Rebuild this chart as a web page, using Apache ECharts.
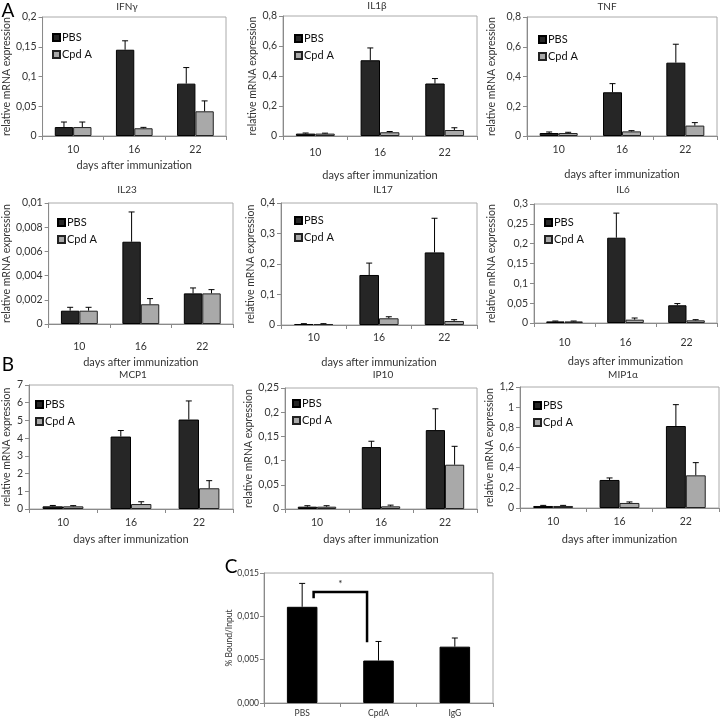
<!DOCTYPE html>
<html>
<head>
<meta charset="utf-8">
<script src="https://cdn.jsdelivr.net/npm/echarts@6/dist/echarts.min.js"></script>
<style>html,body{margin:0;padding:0;background:#fff}#c{width:720px;height:719px}</style>
</head>
<body>
<div id="c"></div>
<script>
// ---------- DATA ----------
const days = ['10', '16', '22'];
const seriesNames = ['PBS', 'Cpd A'];

const ifngPBS = [0.015, 0.145, 0.088];   const ifngPBSErr = [0.0085, 0.015, 0.027];
const ifngCpd = [0.015, 0.013, 0.0415];  const ifngCpdErr = [0.0085, 0.0015, 0.0175];
const il1bPBS = [0.016, 0.505, 0.35];    const il1bPBSErr = [0.004, 0.082, 0.033];
const il1bCpd = [0.016, 0.025, 0.04];    const il1bCpdErr = [0.003, 0.005, 0.015];
const tnfPBS = [0.02, 0.294, 0.493];     const tnfPBSErr = [0.007, 0.058, 0.124];
const tnfCpd = [0.02, 0.031, 0.07];      const tnfCpdErr = [0.005, 0.005, 0.02];
const il23PBS = [0.0011, 0.0068, 0.00253]; const il23PBSErr = [0.00028, 0.00246, 0.00045];
const il23Cpd = [0.0011, 0.00163, 0.00253]; const il23CpdErr = [0.00028, 0.00047, 0.00031];
const il17PBS = [0.0033, 0.164, 0.238];  const il17PBSErr = [0.0011, 0.039, 0.112];
const il17Cpd = [0.0033, 0.022, 0.013];  const il17CpdErr = [0.0011, 0.005, 0.0045];
const il6PBS = [0.004, 0.215, 0.0447];   const il6PBSErr = [0.001, 0.062, 0.0043];
const il6Cpd = [0.004, 0.0084, 0.0067];  const il6CpdErr = [0.001, 0.0042, 0.0017];
const mcp1PBS = [0.15, 4.09, 5.05];      const mcp1PBSErr = [0.05, 0.34, 1.05];
const mcp1Cpd = [0.15, 0.28, 1.17];      const mcp1CpdErr = [0.04, 0.13, 0.43];
const ip10PBS = [0.0048, 0.128, 0.163];  const ip10PBSErr = [0.002, 0.012, 0.044];
const ip10Cpd = [0.0048, 0.0055, 0.0915]; const ip10CpdErr = [0.002, 0.0025, 0.038];
const mip1aPBS = [0.02, 0.278, 0.813];   const mip1aPBSErr = [0.006, 0.02, 0.212];
const mip1aCpd = [0.02, 0.05, 0.324];    const mip1aCpdErr = [0.006, 0.01, 0.126];

const ifngTicks = ['0', '0,05', '0,1', '0,15', '0,2'];
const il1bTicks = ['0', '0,2', '0,4', '0,6', '0,8'];
const tnfTicks = ['0', '0,2', '0,4', '0,6', '0,8'];
const il23Ticks = ['0', '0,002', '0,004', '0,006', '0,008', '0,01'];
const il17Ticks = ['0', '0,1', '0,2', '0,3', '0,4'];
const il6Ticks = ['0', '0,05', '0,1', '0,15', '0,2', '0,25', '0,3'];
const mcp1Ticks = ['0', '1', '2', '3', '4', '5', '6', '7'];
const ip10Ticks = ['0', '0,05', '0,1', '0,15', '0,2', '0,25'];
const mip1aTicks = ['0', '0,2', '0,4', '0,6', '0,8', '1', '1,2'];

// Panel C
const chipCats = ['PBS', 'CpdA', 'IgG'];
const chipVals = [0.0111, 0.0049, 0.0065];
const chipErr = [0.0027, 0.0022, 0.001];
const chipTicks = ['0,000', '0,005', '0,010', '0,015'];
const sigFrom = 0, sigTo = 1;
const sigLeftEnd = 0.0121, sigTop = 0.0128, sigRightEnd = 0.0070, sigLabel = '*';

// ---------- PANELS (data + layout) ----------
const panels = [
  {title:'IFNγ', pbs:ifngPBS, pe:ifngPBSErr, cpd:ifngCpd, ce:ifngCpdErr, ticks:ifngTicks, iv:0.05,
   L:{x:42,y:17,w:184,h:119,tx:127,ty:7,lx:47,ly:27,lm:14,ng:30,yg:27}},
  {title:'IL1β', pbs:il1bPBS, pe:il1bPBSErr, cpd:il1bCpd, ce:il1bCpdErr, ticks:il1bTicks, iv:0.2,
   L:{x:283,y:16,w:194,h:120,tx:377,ty:6,lx:289,ly:28,lm:17,ng:40,yg:23}},
  {title:'TNF', pbs:tnfPBS, pe:tnfPBSErr, cpd:tnfCpd, ce:tnfCpdErr, ticks:tnfTicks, iv:0.2,
   L:{x:527,y:17,w:190,h:119,tx:607,ty:7,lx:533,ly:29,lm:14,ng:39,yg:30}},
  {title:'IL23', pbs:il23PBS, pe:il23PBSErr, cpd:il23Cpd, ce:il23CpdErr, ticks:il23Ticks, iv:0.002,
   L:{x:48,y:203,w:185,h:121,tx:127,ty:190,lx:52,ly:212,lm:23,ng:39,yg:35}},
  {title:'IL17', pbs:il17PBS, pe:il17PBSErr, cpd:il17Cpd, ce:il17CpdErr, ticks:il17Ticks, iv:0.1,
   L:{x:281,y:203,w:196,h:122,tx:383,ty:190,lx:289,ly:210,lm:13,ng:38,yg:20}},
  {title:'IL6', pbs:il6PBS, pe:il6PBSErr, cpd:il6Cpd, ce:il6CpdErr, ticks:il6Ticks, iv:0.05,
   L:{x:534,y:204,w:183,h:119,tx:623,ty:190,lx:539,ly:212,lm:20,ng:39,yg:37}},
  {title:'MCP1', pbs:mcp1PBS, pe:mcp1PBSErr, cpd:mcp1Cpd, ce:mcp1CpdErr, ticks:mcp1Ticks, iv:1,
   L:{x:27,y:385,w:206,h:124,tx:133,ty:375,lx:30,ly:394,lm:14,ng:31,yg:17}},
  {title:'IP10', pbs:ip10PBS, pe:ip10PBSErr, cpd:ip10Cpd, ce:ip10CpdErr, ticks:ip10Ticks, iv:0.05,
   L:{x:285,y:388,w:192,h:121,tx:383,ty:375,lx:287,ly:393,lm:14,ng:31,yg:26}},
  {title:'MIP1α', pbs:mip1aPBS, pe:mip1aPBSErr, cpd:mip1aCpd, ce:mip1aCpdErr, ticks:mip1aTicks, iv:0.2,
   L:{x:520,y:387,w:199,h:121,tx:623,ty:375,lx:528,ly:395,lm:14,ng:32,yg:23}}
];

const FONT = 'Lato, "Noto Sans", sans-serif';
const PBS_COLOR = '#262626', CPD_COLOR = '#a9a9a9';
const AXIS_COLOR = '#8a8a8a', TEXT_COLOR = '#333';

function errRender(offsetFrac) {
  return function (params, api) {
    const cat = api.value(0), v = api.value(1), e = api.value(2);
    const band = api.size([1, 0])[0];
    const base = api.coord([cat, v]);
    const top = api.coord([cat, v + e]);
    const x = base[0] + offsetFrac * band;
    const cw = 3;
    const st = {stroke: '#000', lineWidth: 1};
    return {type: 'group', children: [
      {type: 'line', shape: {x1: x, y1: base[1], x2: x, y2: top[1]}, style: st},
      {type: 'line', shape: {x1: x - cw, y1: top[1], x2: x + cw, y2: top[1]}, style: st}
    ]};
  };
}

const grids = [], xAxes = [], yAxes = [], series = [], legends = [], graphics = [];

panels.forEach((p, i) => {
  const L = p.L;
  grids.push({left: L.x, top: L.y, width: L.w, height: L.h, show: true, borderColor: '#aaa', borderWidth: 1});
  xAxes.push({
    type: 'category', gridIndex: i, data: days,
    axisLine: {lineStyle: {color: AXIS_COLOR}},
    axisTick: {show: true, alignWithLabel: false, length: 4, lineStyle: {color: AXIS_COLOR}},
    axisLabel: {color: TEXT_COLOR, fontSize: 10.5, fontFamily: FONT, margin: L.lm - 6},
    name: 'days after immunization', nameLocation: 'middle', nameGap: L.ng - 6,
    nameTextStyle: {color: TEXT_COLOR, fontSize: 11, fontFamily: FONT}
  });
  const maxV = p.iv * (p.ticks.length - 1);
  yAxes.push({
    type: 'value', gridIndex: i, min: 0, max: maxV, interval: p.iv,
    splitLine: {show: false},
    axisLine: {show: true, lineStyle: {color: AXIS_COLOR}},
    axisTick: {show: true, length: 4, lineStyle: {color: AXIS_COLOR}},
    axisLabel: {color: TEXT_COLOR, fontSize: 10.5, fontFamily: FONT, margin: 6,
      formatter: (v) => p.ticks[Math.round(v / p.iv)] ?? ''},
    name: 'relative mRNA expression', nameLocation: 'middle', nameGap: L.yg,
    nameTextStyle: {color: TEXT_COLOR, fontSize: 10.5, fontFamily: FONT}
  });
  series.push({
    type: 'bar', name: seriesNames[0], xAxisIndex: i, yAxisIndex: i, data: p.pbs,
    barWidth: '30%', barGap: '0%',
    itemStyle: {color: PBS_COLOR, borderColor: '#000', borderWidth: 1}
  });
  series.push({
    type: 'bar', name: seriesNames[1], xAxisIndex: i, yAxisIndex: i, data: p.cpd,
    barWidth: '30%', barGap: '0%',
    itemStyle: {color: CPD_COLOR, borderColor: '#222', borderWidth: 1}
  });
  series.push({
    type: 'custom', name: 'errPBS' + i, xAxisIndex: i, yAxisIndex: i, z: 5,
    data: days.map((d, k) => [k, p.pbs[k], p.pe[k]]),
    renderItem: errRender(-0.15)
  });
  series.push({
    type: 'custom', name: 'errCpd' + i, xAxisIndex: i, yAxisIndex: i, z: 5,
    data: days.map((d, k) => [k, p.cpd[k], p.ce[k]]),
    renderItem: errRender(0.15)
  });
  legends.push({
    data: seriesNames, orient: 'vertical', left: L.lx, top: L.ly,
    itemWidth: 7, itemHeight: 7, itemGap: 6, icon: 'rect', selectedMode: false,
    textStyle: {color: '#111', fontSize: 11, fontFamily: FONT, padding: [0, 0, 0, -3]}
  });
  graphics.push({type: 'text', x: L.tx, y: L.ty, style: {
    text: p.title, align: 'center', verticalAlign: 'middle', textAlign: 'center', textVerticalAlign: 'middle',
    fill: TEXT_COLOR, font: '10px ' + FONT}});
});

// Panel C
const ci = panels.length;
grids.push({left: 264, top: 573, width: 229, height: 130, show: true, borderColor: '#aaa', borderWidth: 1});
xAxes.push({
  type: 'category', gridIndex: ci, data: chipCats,
  axisLine: {lineStyle: {color: AXIS_COLOR}},
  axisTick: {show: true, alignWithLabel: false, length: 4, lineStyle: {color: AXIS_COLOR}},
  axisLabel: {color: TEXT_COLOR, fontSize: 8.5, fontFamily: FONT, margin: 6}
});
yAxes.push({
  type: 'value', gridIndex: ci, min: 0, max: 0.015, interval: 0.005,
  splitLine: {show: false},
  axisLine: {show: true, lineStyle: {color: AXIS_COLOR}},
  axisTick: {show: true, length: 4, lineStyle: {color: AXIS_COLOR}},
  axisLabel: {color: TEXT_COLOR, fontSize: 8.5, fontFamily: FONT, margin: 5,
    formatter: (v) => chipTicks[Math.round(v / 0.005)] ?? ''},
  name: '% Bound/Input', nameLocation: 'middle', nameGap: 26,
  nameTextStyle: {color: TEXT_COLOR, fontSize: 8.5, fontFamily: FONT}
});
series.push({
  type: 'bar', name: 'chip', xAxisIndex: ci, yAxisIndex: ci, data: chipVals,
  barWidth: '40%', itemStyle: {color: '#000', borderColor: '#000', borderWidth: 1}
});
series.push({
  type: 'custom', name: 'chipErr', xAxisIndex: ci, yAxisIndex: ci, z: 5,
  data: chipCats.map((c, k) => [k, chipVals[k], chipErr[k]]),
  renderItem: errRender(0)
});
series.push({
  type: 'custom', name: 'sig', xAxisIndex: ci, yAxisIndex: ci, z: 6,
  data: [[sigFrom, sigTo, sigLeftEnd, sigTop, sigRightEnd]],
  renderItem: function (params, api) {
    const a = api.value(0), b = api.value(1);
    const band = api.size([1, 0])[0];
    const x1 = api.coord([a, 0])[0] + 0.15 * band;
    const x2 = api.coord([b, 0])[0] - 0.15 * band;
    const yL = api.coord([a, api.value(2)])[1];
    const yT = api.coord([a, api.value(3)])[1];
    const yR = api.coord([b, api.value(4)])[1];
    return {type: 'group', children: [
      {type: 'polyline', shape: {points: [[x1, yL], [x1, yT], [x2, yT], [x2, yR]]},
       style: {stroke: '#000', lineWidth: 2.5, fill: null}},
      {type: 'text', x: (x1 + x2) / 2, y: yT - 8,
       style: {text: sigLabel, align: 'center', verticalAlign: 'middle', fill: '#222', font: '10px ' + FONT}}
    ]};
  }
});

// Panel letters
graphics.push({type: 'text', x: 8, y: 11, style: {text: 'A', align: 'center', verticalAlign: 'middle', textAlign: 'center', textVerticalAlign: 'middle', fill: '#000', font: '19px ' + FONT}});
graphics.push({type: 'text', x: 8, y: 365, style: {text: 'B', align: 'center', verticalAlign: 'middle', textAlign: 'center', textVerticalAlign: 'middle', fill: '#000', font: '19px ' + FONT}});
graphics.push({type: 'text', x: 231, y: 567, style: {text: 'C', align: 'center', verticalAlign: 'middle', textAlign: 'center', textVerticalAlign: 'middle', fill: '#000', font: '19px ' + FONT}});

const chart = echarts.init(document.getElementById('c'), null, {renderer: 'canvas'});
chart.setOption({
  backgroundColor: '#fff',
  animation: false,
  grid: grids, xAxis: xAxes, yAxis: yAxes, series: series, legend: legends, graphic: graphics
});
</script>
</body>
</html>
